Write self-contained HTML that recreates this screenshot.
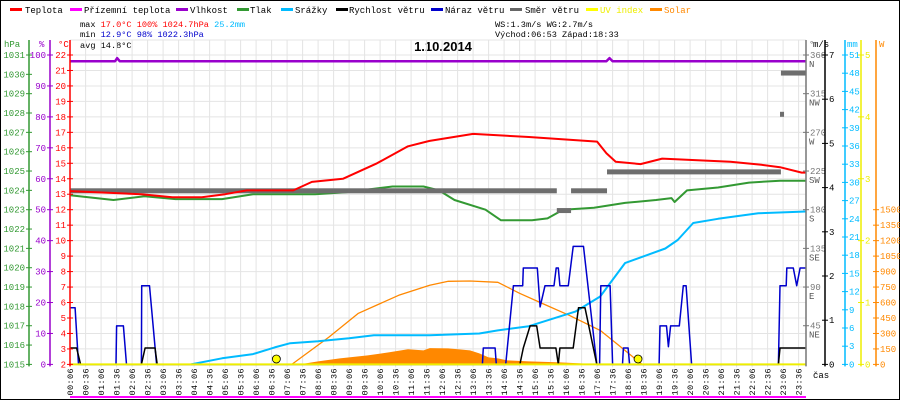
<!DOCTYPE html>
<html><head><meta charset="utf-8"><style>
html,body{margin:0;padding:0;background:#fff}
svg{display:block;font-family:"Liberation Mono","DejaVu Sans Mono",monospace}
</style></head><body>
<svg id="c" width="900" height="400" viewBox="0 0 900 400" xmlns="http://www.w3.org/2000/svg">
<rect x="0.5" y="0.5" width="899" height="399" fill="#fff" stroke="#000"/>
<g id="legend" font-size="9">
<g><rect x="10" y="8" width="12" height="3" fill="#f00"/><text x="25" y="13">Teplota</text></g>
<g><rect x="70" y="8" width="12" height="3" fill="#f0f"/><text x="84" y="13">Přízemní teplota</text></g>
<g><rect x="176" y="8" width="12" height="3" fill="#90c"/><text x="190" y="13">Vlhkost</text></g>
<g><rect x="237" y="8" width="12" height="3" fill="#393"/><text x="250" y="13">Tlak</text></g>
<g><rect x="281" y="8" width="12" height="3" fill="#0bf"/><text x="295" y="13">Srážky</text></g>
<g><rect x="336" y="8" width="12" height="3" fill="#000"/><text x="349" y="13">Rychlost větru</text></g>
<g><rect x="431" y="8" width="12" height="3" fill="#00c"/><text x="445" y="13">Náraz větru</text></g>
<g><rect x="510" y="8" width="12" height="3" fill="#666"/><text x="525" y="13">Směr větru</text></g>
<g><rect x="586" y="8" width="12" height="3" fill="#ff0"/><text x="600" y="13" fill="#ee0">UV index</text></g>
<g><rect x="650" y="8" width="12" height="3" fill="#f80"/><text x="664" y="13" fill="#f80">Solar</text></g>
</g>
<g font-size="8.6">
<text x="80" y="27">max <tspan fill="#f00">17.0°C 100%  1024.7hPa</tspan>  <tspan fill="#0bf">25.2mm</tspan></text>
<text x="80" y="37">min <tspan fill="#00c">12.9°C  98%  1022.3hPa</tspan></text>
<text x="80" y="48">avg 14.8°C</text>
<text x="495" y="27">WS:1.3m/s   WG:2.7m/s</text>
<text x="495" y="37">Východ:06:53 Západ:18:33</text>
</g>
<text x="443" y="51" font-size="13" font-weight="bold" text-anchor="middle" font-family="Liberation Sans, sans-serif">1.10.2014</text>
<g id="grid"></g><g id="marks"></g><g id="axes"></g>
</svg>
<script>
const tempT=[0.1,2.4,3.4,4.35,5.1,5.8,7.3,7.9,8.9,10,11,11.6,11.7,13.1,14.9,17.1,17.4,17.7,18.5,19.2,21.4,22.4,23,23.7,23.84];
const tempV=[13.2,13.0,12.8,12.8,13.0,13.25,13.25,13.8,14.0,15.0,16.1,16.4,16.45,16.9,16.7,16.4,15.65,15.1,14.95,15.3,15.1,14.9,14.75,14.4,14.4];
const presT=[0.1,1.5,2.5,3.5,5,6,8,9,10.5,11.5,12,12.5,13.5,14,15,15.5,16,17,18,19,19.5,19.6,20,21,22,23,23.84];
const presV=[1023.75,1023.5,1023.7,1023.55,1023.55,1023.8,1023.8,1023.9,1024.2,1024.2,1024.0,1023.5,1023.0,1022.45,1022.45,1022.55,1023.0,1023.1,1023.35,1023.5,1023.6,1023.4,1024.0,1024.15,1024.4,1024.5,1024.5];
const humT=[0.1,1.55,1.62,1.7,17.4,17.5,17.6,23.84];
const humV=[98,98,99,98,98,99,98,98];
const rainT=[4.0,5,6,6.7,7.2,8.1,9.1,9.9,11.35,11.7,13.3,13.9,14.9,16.4,17.2,18,19.3,19.7,20.2,21,22.3,23.3,23.84];
const rainV=[0,1.0,1.7,2.8,3.5,3.8,4.3,4.8,4.8,4.8,5.1,5.6,6.3,8.7,11.2,16.7,19.1,20.5,23.3,24,24.9,25.1,25.2];
const windT=[0.1,0.31,0.44,2.4,2.52,2.84,2.91,14.61,14.72,14.94,15.15,15.26,15.77,15.85,15.9,16.33,16.5,16.71,17.09,22.95,23.0,23.84];
const windV=[0.37,0.37,0,0,0.37,0.37,0,0,0.37,0.87,0.87,0.37,0.37,0,0.37,0.37,1.28,1.28,0,0,0.37,0.37];
const gustT=[0.1,0.26,0.37,1.58,1.6,1.82,1.92,2.4,2.41,2.66,2.89,13.4,13.43,13.81,13.85,14.15,14.4,14.7,14.72,15.17,15.26,15.42,15.71,15.78,15.85,15.9,16.17,16.33,16.66,17.09,17.18,17.22,17.52,17.6,17.92,17.95,18.1,18.15,19.1,19.13,19.34,19.4,19.47,19.75,19.88,19.97,20.15,22.95,23.0,23.2,23.22,23.43,23.54,23.65,23.84];
const gustV=[1.28,1.28,0,0,0.87,0.87,0,0,1.78,1.78,0,0,0.37,0.37,0,0,1.78,1.78,2.18,2.18,1.3,1.78,1.78,2.18,2.18,1.78,1.78,2.67,2.67,0,0,1.78,1.78,0,0,0.37,0.37,0,0,0.87,0.87,0.4,0.87,0.87,1.78,1.78,0,0,1.78,1.78,2.18,2.18,1.78,2.18,2.18];
const dirStart=[0.1,16.26,15.8,17.42,23.03,23.0];
const dirEnd=[15.8,17.42,16.26,23.03,23.84,23.13];
const dirVal=[202,202,179,224,339,291];
const solarLineT=[7.25,8.45,9.4,10.7,11.7,12.3,13,13.9,14.6,15.4,16.2,17.2,17.8,18.55];
const solarLineV=[0,265,495,670,767,806,809,796,689,582,476,330,184,0];
const solarT=[7.5,8.1,8.8,9.7,10.4,11,11.5,11.7,12.3,13,13.3,13.6,13.9,14.2,14.9,15.9,16.9,17.6];
const solarV=[0,29,58,87,117,146,136,158,155,136,107,68,58,39,29,19,5,0];
const sunT=[6.883,18.55];
const hpaTicks=[1015,1016,1017,1018,1019,1020,1021,1022,1023,1024,1025,1026,1027,1028,1029,1030,1031];
const pctTicks=[0,10,20,30,40,50,60,70,80,90,100];
const degTicks=[45,90,135,180,225,270,315,360];
const degNames=["NE","E","SE","S","SW","W","NW","N"];
const msTicks=[0,1,2,3,4,5,6,7];
const mmTicks=[0,3,6,9,12,15,18,21,24,27,30,33,36,39,42,45,48,51];
const uvTicks=[0,1,2,3,4,5];
const wTicks=[0,150,300,450,600,750,900,1050,1200,1350,1500];

const NS="http://www.w3.org/2000/svg";
const TOP=55, BOT=364.4, H=BOT-TOP, PL=70, PR=806;
const X=t=>67+31*t;
const yC=v=>BOT-(v-2)*H/20;
const yH=v=>BOT-(v-1015)*H/16;
const yP=v=>BOT-v*H/100;
const yD=v=>BOT-v*H/360;
const yMS=v=>BOT-v*H/7;
const yMM=v=>BOT-v*H/51;
const yUV=v=>BOT-v*H/5;
const yW=v=>BOT-v*H/3000;
function mk(tag,attrs,parent){const e=document.createElementNS(NS,tag);for(const k in attrs)e.setAttribute(k,attrs[k]);parent.appendChild(e);return e;}
const grid=document.getElementById('grid'),marks=document.getElementById('marks'),axes=document.getElementById('axes');

for(let c=2;c<=22;c++){const l=mk('line',{x1:PL,x2:PR,y1:yC(c),y2:yC(c),stroke:'#e4e4e4'},grid);

}
mk('line',{x1:PL,x2:PR,y1:40,y2:40,stroke:'#e4e4e4'},grid);
for(let i=0;i<48;i++){const t=0.1+i*0.5,x=X(t);
const l=mk('line',{x1:x,x2:x,y1:40,y2:BOT+3,stroke:'#e4e4e4'},grid);


const h=Math.floor(t),m=Math.round((t-h)*60);
const lab=String(h).padStart(2,'0')+':'+String(m).padStart(2,'0');
const tx=mk('text',{x:0,y:0,'font-size':8.5,'letter-spacing':0.4,'text-anchor':'end',transform:`translate(${x+3},368) rotate(-90)`},axes);
tx.textContent=lab;

}
const ml=mk('line',{x1:PL,x2:PR,y1:397,y2:397,stroke:'#f0f','stroke-width':2},marks);



function line(T,V,yf,color,w,name){const p=T.map((t,i)=>X(t).toFixed(1)+','+yf(V[i]).toFixed(1)).join(' ');
const e=mk('polyline',{points:p,fill:'none',stroke:color,'stroke-width':w,'stroke-linejoin':'round'},marks);

return e;}
{const p=[X(solarT[0])+','+BOT].concat(solarT.map((t,i)=>X(t).toFixed(1)+','+yW(solarV[i]).toFixed(1))).concat([X(solarT[solarT.length-1])+','+BOT]).join(' ');
const e=mk('polygon',{points:p,fill:'#f80'},marks);

}
line(solarLineT,solarLineV,yW,'#f80',1.3,'solar-max-line');
line(rainT,rainV,yMM,'#0bf',2,'series-srazky');
line(presT,presV,yH,'#393',2,'series-tlak');
for(let i=0;i<dirVal.length;i++){const r=mk('rect',{x:X(dirStart[i]),y:yD(dirVal[i])-2.5,width:X(dirEnd[i])-X(dirStart[i]),height:5,fill:'#6e6e6e'},marks);

}
line(tempT,tempV,yC,'#f00',2,'series-teplota');
line(humT,humV,yP,'#90c',2.5,'series-vlhkost');
line(gustT,gustV,yMS,'#00c',1.5,'series-naraz-vetru');
line(windT,windV,yMS,'#000',1.5,'series-rychlost-vetru');
const uv=mk('line',{x1:PL,x2:PR,y1:BOT,y2:BOT,stroke:'#ee0','stroke-width':2},marks);


sunT.forEach(t=>{const c=mk('circle',{cx:X(t)-4,cy:359,r:4,fill:'#ff0',stroke:'#000','stroke-width':0.8},marks);

});

function axis(x,color,ticks,yf,side,title,tx,fmt,name){
const g=mk('g',{fill:color,'font-size':9},axes);


mk('line',{x1:x,x2:x,y1:40,y2:BOT+2,stroke:color,'stroke-width':1.5},g);
const tt=mk('text',{x:tx,y:47},g);tt.textContent=title;
ticks.forEach((v,i)=>{const y=yf(v);mk('line',{x1:x-3,x2:x+3,y1:y,y2:y,stroke:color},g);
const t=mk('text',{x:side<0?x-4:x+4,y:y+3,'text-anchor':side<0?'end':'start'},g);t.textContent=fmt?fmt(v,i):v;});}
axis(29,'#393',hpaTicks,yH,-1,'hPa',4,null,'y-axis-hpa');
axis(50,'#90c',pctTicks,yP,-1,'%',39,null,'y-axis-percent');
axis(70,'#f00',[2,3,4,5,6,7,8,9,10,11,12,13,14,15,16,17,18,19,20,21,22],yC,-1,'°C',58,null,'y-axis-celsius');
axis(806,'#777',degTicks,yD,1,'°',809,null,'y-axis-degrees');
degTicks.forEach((v,i)=>{const t=mk('text',{x:809,y:yD(v)+12,'font-size':9,fill:'#555'},axes);t.textContent=degNames[i];

});
axis(825,'#000',msTicks,yMS,1,'m/s',813,null,'y-axis-ms');
axis(845,'#0bf',mmTicks,yMM,1,'mm',847,null,'y-axis-mm');
axis(861,'#ee0',uvTicks,yUV,1,'',863,null,'y-axis-uv');
axis(876,'#f80',wTicks,yW,1,'W',879,null,'y-axis-solar');
const cas=mk('text',{x:813,y:378,'font-size':9},axes);cas.textContent='čas';


</script>
</body></html>
